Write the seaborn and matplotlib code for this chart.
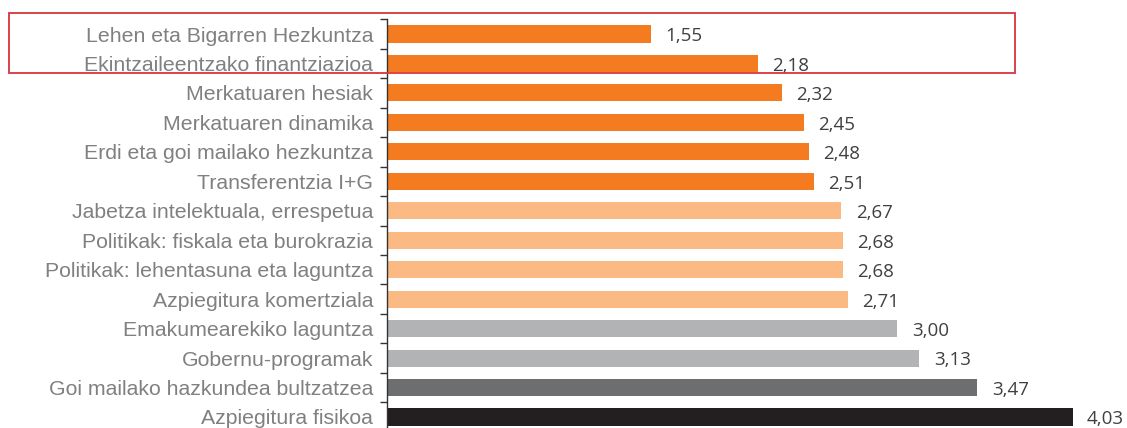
import matplotlib
matplotlib.use('Agg')
import matplotlib.pyplot as plt
import seaborn as sns
import pandas as pd
from matplotlib.patches import Rectangle

# -------------------------
# Datos
# -------------------------
categorias = [
    'Lehen eta Bigarren Hezkuntza',
    'Ekintzaileentzako finantziazioa',
    'Merkatuaren hesiak',
    'Merkatuaren dinamika',
    'Erdi eta goi mailako hezkuntza',
    'Transferentzia I+G',
    'Jabetza intelektuala, errespetua',
    'Politikak: fiskala eta burokrazia',
    'Politikak: lehentasuna eta laguntza',
    'Azpiegitura komertziala',
    'Emakumearekiko laguntza',
    'Gobernu-programak',
    'Goi mailako hazkundea bultzatzea',
    'Azpiegitura fisikoa',
]
valores = [1.55, 2.18, 2.32, 2.45, 2.48, 2.51, 2.67, 2.68, 2.68, 2.71, 3.00, 3.13, 3.47, 4.03]
grupo = ['naranja'] * 6 + ['naranja_claro'] * 4 + ['gris'] * 2 + ['gris_oscuro', 'negro']

colores_grupo = {
    'naranja': '#F47B20',
    'naranja_claro': '#FBB984',
    'gris': '#B1B3B4',
    'gris_oscuro': '#6D6E70',
    'negro': '#231F20',
}

df = pd.DataFrame({'categoria': categorias, 'valor': valores, 'grupo': grupo})
paleta = [colores_grupo[g] for g in grupo]

# -------------------------
# Figura
# -------------------------
sns.set_style('white')
plt.rcParams['font.family'] = ['Liberation Sans', 'DejaVu Sans']

fig = plt.figure(figsize=(11.27, 4.28), dpi=100)
ax = fig.add_axes([387 / 1127, -0.0087, 1 - 387 / 1127, 0.9636])

sns.barplot(data=df, y='categoria', x='valor', hue='categoria', palette=paleta,
            orient='h', width=0.58, saturation=1, legend=False, ax=ax, edgecolor='none')

ax.set_xlim(0, 4.35)
ax.set_ylim(len(categorias) - 0.5, -0.5)
ax.set_xlabel('')
ax.set_ylabel('')
ax.set_xticks([])

# Etiquetas del eje Y
ax.set_yticks(range(len(categorias)))
ax.set_yticklabels(categorias, fontsize=15.3, color='#808080')
ax.tick_params(axis='y', which='major', left=False, length=0, pad=10)
ax.set_yticks([i - 0.5 for i in range(len(categorias) + 1)], minor=True)
ax.tick_params(axis='y', which='minor', left=True, length=5, width=1,
               color='#333333', direction='out')

for s in ['top', 'right', 'bottom']:
    ax.spines[s].set_visible(False)
ax.spines['left'].set_color('#333333')
ax.spines['left'].set_linewidth(1)

# Valores
for i, v in enumerate(valores):
    ax.text(v + 0.085, i + 0.08, f'{v:.2f}'.replace('.', ','), va='center', ha='left',
            fontsize=13.5, color='#404040', family=['Open Sans', 'DejaVu Sans'])

# Recuadro rojo
fig.patches.append(Rectangle((9 / 1127, 1 - 73 / 428), (1015 - 9) / 1127, 60 / 428,
                             transform=fig.transFigure, fill=False,
                             edgecolor='#D7343C', linewidth=1.3))

plt.savefig('out.png', dpi=100)
plt.close()
